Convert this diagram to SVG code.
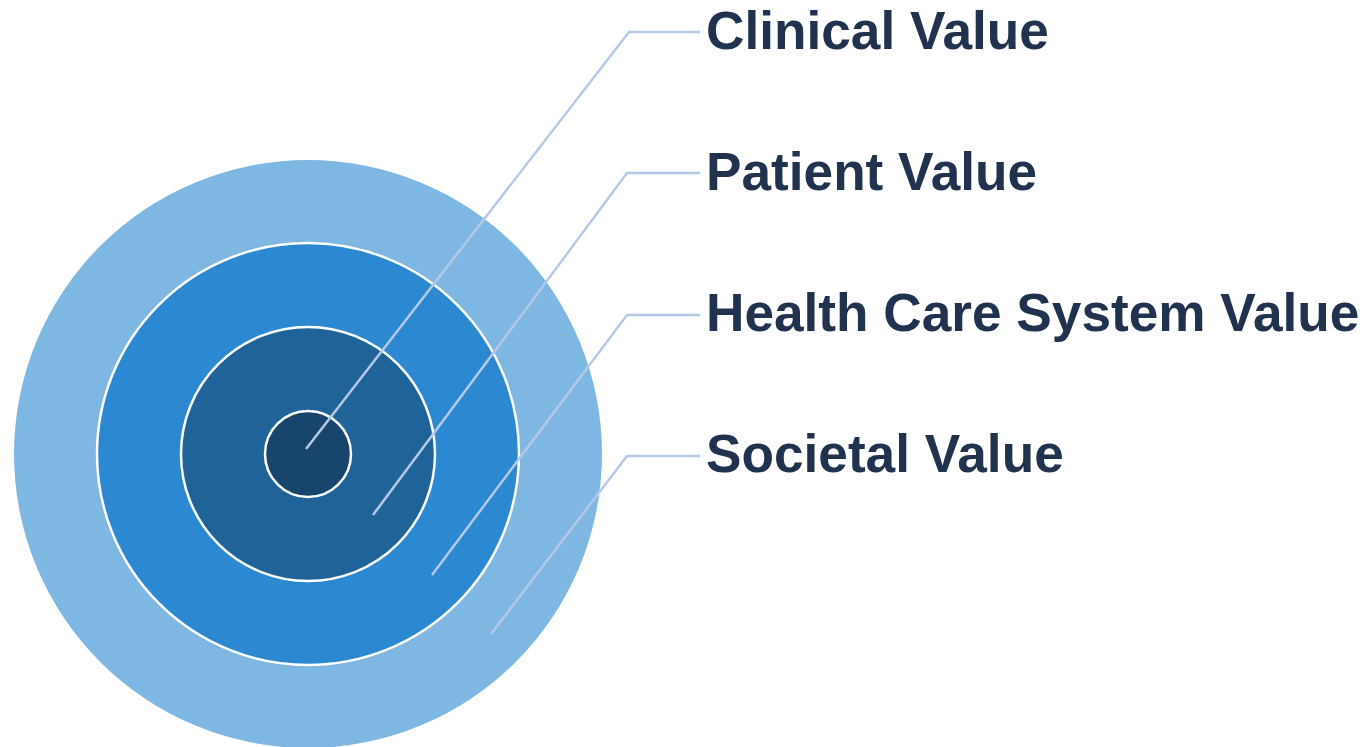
<svg xmlns="http://www.w3.org/2000/svg" width="1371" height="747" viewBox="0 0 1371 747">
  <style>
    .ring { stroke: #ffffff; stroke-width: 2.5; }
    .leader { fill: none; stroke: #b4c9e8; stroke-width: 2.5; stroke-linejoin: round; }
    .label { font-family: "Liberation Sans", Arial, sans-serif; font-weight: bold; font-size: 53.2px; fill: #20324d; }
  </style>
  <rect width="1371" height="747" fill="#ffffff"/>

  <!-- concentric value rings -->
  <g id="societal">
    <circle cx="308" cy="454" r="294" fill="#7fb7e3"/>
  </g>
  <g id="health-care-system">
    <circle class="ring" cx="308" cy="454" r="211" fill="#2b88d1"/>
  </g>
  <g id="patient">
    <circle class="ring" cx="308" cy="454" r="127" fill="#1f6399"/>
  </g>
  <g id="clinical">
    <circle class="ring" cx="308" cy="454" r="43" fill="#17456b"/>
  </g>

  <!-- leader lines -->
  <g id="connectors">
    <polyline class="leader" points="306,449 629,32 700,32"/>
    <polyline class="leader" points="373,515 627,173 700,173"/>
    <polyline class="leader" points="432,575 627,315 700,315"/>
    <polyline class="leader" points="491,634 627,456 700,456"/>
  </g>

  <!-- labels -->
  <g id="label-clinical"><text class="label" x="706" y="49">Clinical Value</text></g>
  <g id="label-patient"><text class="label" x="706" y="190">Patient Value</text></g>
  <g id="label-health"><text class="label" x="706" y="331">Health Care System Value</text></g>
  <g id="label-societal"><text class="label" x="706" y="472">Societal Value</text></g>
</svg>
